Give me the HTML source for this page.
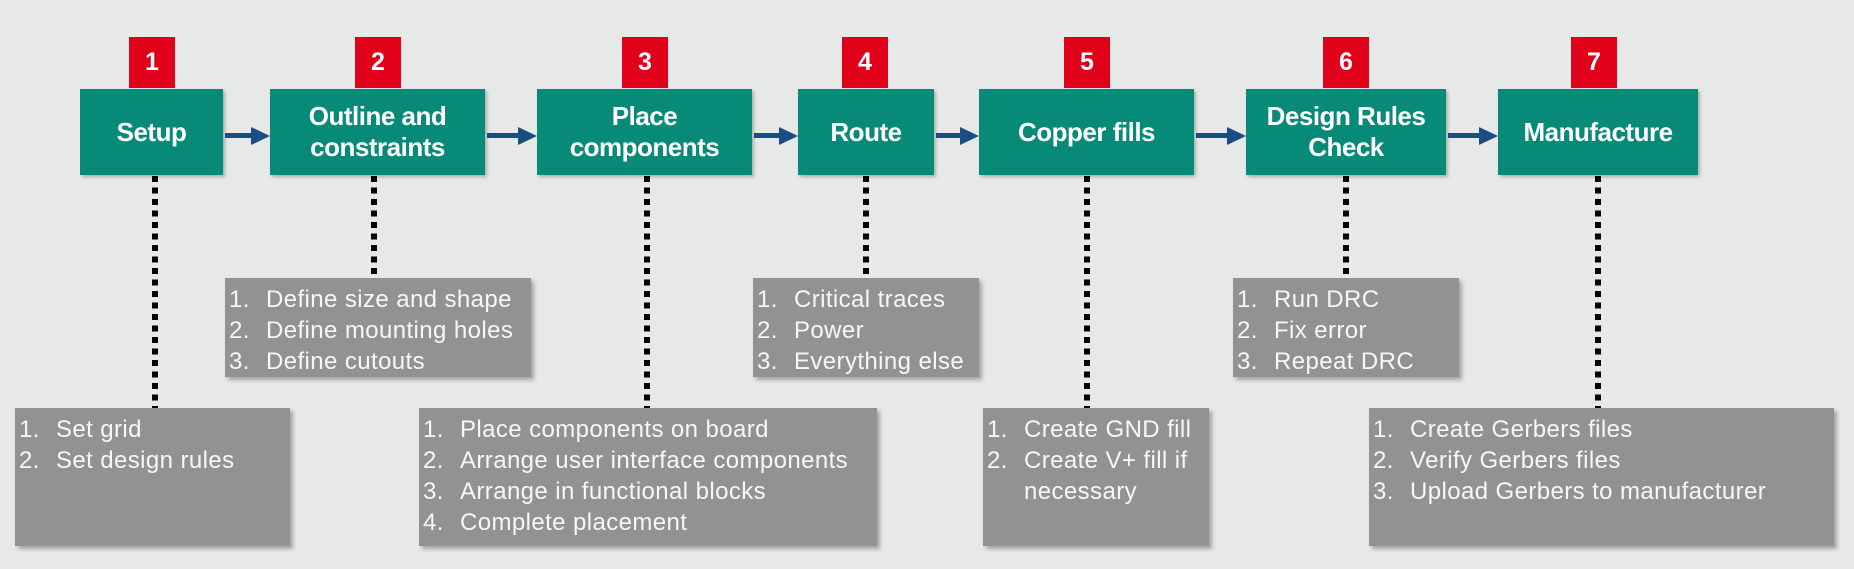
<!DOCTYPE html>
<html><head><meta charset="utf-8"><style>
body{margin:0;width:1854px;height:569px;background:#e7e8e8;position:relative;overflow:hidden;font-family:"Liberation Sans",sans-serif}
.b{position:absolute;background:#e0001a;color:#fff;font-weight:bold;font-size:25px;text-align:center;top:37px;height:51px;width:46px;line-height:51px}
.g{position:absolute;background:#078a78;color:#fff;font-weight:bold;font-size:26px;top:89px;height:86px;display:flex;align-items:center;justify-content:center;text-align:center;line-height:31px;box-shadow:2px 2px 3px rgba(0,0,0,.25);letter-spacing:-0.5px}
.a{position:absolute;top:133px;height:5px;background:#1a4d80}
.h{position:absolute;top:127px;width:0;height:0;border-top:9.5px solid transparent;border-bottom:9.5px solid transparent;border-left:19px solid #1a4d80}
.d{position:absolute;width:6px;top:176px;background:repeating-linear-gradient(to bottom,#000 0 6px,transparent 6px 11.5px)}
.l{position:absolute;background:#929292;color:#f7f7f7;font-size:24px;letter-spacing:0.4px;line-height:31px;box-shadow:3px 3px 4px rgba(0,0,0,.3);box-sizing:border-box;padding:6px 0 0 4px}
.l div{padding-left:37px;text-indent:-37px;white-space:nowrap}
.l span{display:inline-block;width:37px;text-indent:0}
.t{top:278px;height:99px}.u{top:408px;height:138px}
</style></head><body>
<div class="b" style="left:129px">1</div>
<div class="b" style="left:355px">2</div>
<div class="b" style="left:622px">3</div>
<div class="b" style="left:842px">4</div>
<div class="b" style="left:1064px">5</div>
<div class="b" style="left:1323px">6</div>
<div class="b" style="left:1571px">7</div>

<div class="g" style="left:80px;width:143px">Setup</div>
<div class="g" style="left:270px;width:215px">Outline and<br>constraints</div>
<div class="g" style="left:537px;width:215px">Place<br>components</div>
<div class="g" style="left:798px;width:136px">Route</div>
<div class="g" style="left:979px;width:215px">Copper fills</div>
<div class="g" style="left:1246px;width:200px">Design Rules<br>Check</div>
<div class="g" style="left:1498px;width:200px">Manufacture</div>

<div class="a" style="left:225px;width:27px"></div><div class="h" style="left:251px"></div>
<div class="a" style="left:487px;width:32px"></div><div class="h" style="left:518px"></div>
<div class="a" style="left:754px;width:26px"></div><div class="h" style="left:779px"></div>
<div class="a" style="left:936px;width:25px"></div><div class="h" style="left:960px"></div>
<div class="a" style="left:1196px;width:32px"></div><div class="h" style="left:1227px"></div>
<div class="a" style="left:1448px;width:32px"></div><div class="h" style="left:1479px"></div>

<div class="d" style="left:152px;height:232px"></div>
<div class="d" style="left:371px;height:102px"></div>
<div class="d" style="left:644px;height:232px"></div>
<div class="d" style="left:863px;height:102px"></div>
<div class="d" style="left:1084px;height:232px"></div>
<div class="d" style="left:1343px;height:102px"></div>
<div class="d" style="left:1595px;height:232px"></div>

<div class="l u" style="left:15px;width:275px"><div><span>1.</span>Set grid</div><div><span>2.</span>Set design rules</div></div>
<div class="l t" style="left:225px;width:306px"><div><span>1.</span>Define size and shape</div><div><span>2.</span>Define mounting holes</div><div><span>3.</span>Define cutouts</div></div>
<div class="l u" style="left:419px;width:458px"><div><span>1.</span>Place components on board</div><div><span>2.</span>Arrange user interface components</div><div><span>3.</span>Arrange in functional blocks</div><div><span>4.</span>Complete placement</div></div>
<div class="l t" style="left:753px;width:226px"><div><span>1.</span>Critical traces</div><div><span>2.</span>Power</div><div><span>3.</span>Everything else</div></div>
<div class="l u" style="left:983px;width:226px"><div><span>1.</span>Create GND fill</div><div><span>2.</span>Create V+ fill if</div><div><span></span>necessary</div></div>
<div class="l t" style="left:1233px;width:226px"><div><span>1.</span>Run DRC</div><div><span>2.</span>Fix error</div><div><span>3.</span>Repeat DRC</div></div>
<div class="l u" style="left:1369px;width:465px"><div><span>1.</span>Create Gerbers files</div><div><span>2.</span>Verify Gerbers files</div><div><span>3.</span>Upload Gerbers to manufacturer</div></div>
</body></html>
